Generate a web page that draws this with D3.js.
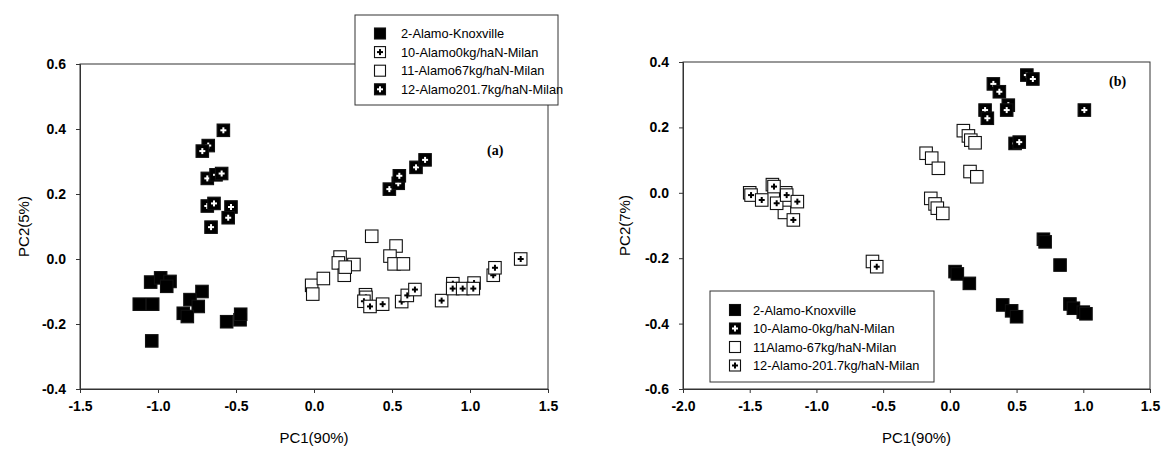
<!DOCTYPE html>
<html>
<head>
<meta charset="utf-8">
<script src="https://cdn.jsdelivr.net/npm/d3@7/dist/d3.min.js"></script>
<style>
  body { margin: 0; background: #fff; }
  text { font-family: Arial, "Liberation Sans", sans-serif; }
</style>
</head>
<body>
<script>
// PCA scores
var seriesNamesA = ['2-Alamo-Knoxville', '10-Alamo0kg/haN-Milan', '11-Alamo67kg/haN-Milan', '12-Alamo201.7kg/haN-Milan'];
var seriesNamesB = ['2-Alamo-Knoxville', '10-Alamo-0kg/haN-Milan', '11Alamo-67kg/haN-Milan', '12-Alamo-201.7kg/haN-Milan'];

// panel (a)
var knoxA = [[-1.047, -0.071], [-0.983, -0.058], [-0.923, -0.069], [-0.944, -0.084], [-1.12, -0.139], [-1.034, -0.139],
  [-0.718, -0.1], [-0.795, -0.125], [-0.742, -0.146], [-0.838, -0.167], [-0.812, -0.177], [-0.56, -0.193],
  [-0.474, -0.187], [-0.47, -0.17], [-1.04, -0.252]];
var milan0A = [[0.333, -0.118], [0.32, -0.13], [0.359, -0.146], [0.44, -0.139], [0.562, -0.131], [0.598, -0.112],
  [0.647, -0.094], [0.818, -0.128], [0.89, -0.076], [1.026, -0.074], [0.889, -0.091], [0.953, -0.091], [1.021, -0.091],
  [1.149, -0.05], [1.16, -0.027], [1.325, 0.0]];
var milan67A = [[0.37, 0.07], [-0.015, -0.081], [-0.008, -0.108], [0.06, -0.06], [0.167, 0.006], [0.156, -0.012],
  [0.256, -0.017], [0.194, -0.05], [0.526, 0.04], [0.487, 0.009], [0.513, -0.015], [0.573, -0.015], [0.2, -0.025], [0.33, -0.11]];
var milan201A = [[-0.581, 0.396], [-0.678, 0.349], [-0.716, 0.332], [-0.684, 0.248], [-0.628, 0.259], [-0.592, 0.263],
  [-0.684, 0.163], [-0.641, 0.171], [-0.532, 0.16], [-0.55, 0.127], [-0.66, 0.098],
  [0.483, 0.215], [0.54, 0.233], [0.547, 0.256], [0.654, 0.282], [0.712, 0.305]];

// panel (b)
var knoxB = [[0.039, -0.241], [0.056, -0.248], [0.146, -0.277], [0.396, -0.343], [0.463, -0.361], [0.5, -0.379],
  [0.701, -0.142], [0.714, -0.15], [0.826, -0.221], [0.9, -0.34], [0.926, -0.353], [1.0, -0.365], [1.02, -0.37]];
var milan0B = [[0.577, 0.36], [0.622, 0.348], [0.326, 0.333], [0.371, 0.309], [0.438, 0.268], [0.426, 0.253],
  [0.264, 0.253], [0.281, 0.228], [1.008, 0.253], [0.489, 0.151], [0.52, 0.155]];
var milan67B = [[0.101, 0.19], [0.139, 0.174], [0.157, 0.161], [0.189, 0.153], [-0.178, 0.121], [-0.136, 0.106],
  [-0.086, 0.075], [0.151, 0.065], [0.202, 0.049], [-0.143, -0.017], [-0.111, -0.034], [-0.094, -0.047], [-0.053, -0.063],
  [-1.5, 0.0], [-1.33, 0.025], [-1.23, 0.0], [-1.24, -0.06], [-0.58, -0.21]];
var milan201B = [[-1.49, -0.007], [-1.41, -0.022], [-1.318, 0.019], [-1.298, -0.032], [-1.223, -0.007],
  [-1.143, -0.027], [-1.173, -0.083], [-0.548, -0.226]];

var xTicksA = [-1.5, -1.0, -0.5, 0.0, 0.5, 1.0, 1.5];
var yTicksA = [-0.4, -0.2, 0.0, 0.2, 0.4, 0.6];
var xTicksB = [-2.0, -1.5, -1.0, -0.5, 0.0, 0.5, 1.0, 1.5];
var yTicksB = [-0.6, -0.4, -0.2, 0.0, 0.2, 0.4];

// marker kinds: fill colour of square, colour of cross (null = none)
var styleA = [{fill: '#000', cross: null}, {fill: '#fff', cross: '#000'}, {fill: '#fff', cross: null}, {fill: '#000', cross: '#fff'}];
var styleB = [{fill: '#000', cross: null}, {fill: '#000', cross: '#fff'}, {fill: '#fff', cross: null}, {fill: '#fff', cross: '#000'}];

var svg = d3.select('body').append('svg')
  .attr('width', 1164)
  .attr('height', 454);

var fmt = function(v) { return v.toFixed(1); };

var drawMarker = function(g, st, size) {
  g.append('rect')
    .attr('x', -size / 2).attr('y', -size / 2)
    .attr('width', size).attr('height', size)
    .attr('fill', st.fill)
    .attr('stroke', '#111')
    .attr('stroke-width', 1.1);
  if (st.cross) {
    g.append('rect').attr('x', -3).attr('y', -1).attr('width', 6).attr('height', 2).attr('fill', st.cross);
    g.append('rect').attr('x', -1).attr('y', -3).attr('width', 2).attr('height', 6).attr('fill', st.cross);
  }
};

var drawPanel = function(p) {
  var x = d3.scaleLinear().domain(p.xDomain).range([p.left, p.right]);
  var y = d3.scaleLinear().domain(p.yDomain).range([p.bottom, p.top]);

  // frame
  svg.append('rect')
    .attr('x', p.left).attr('y', p.top)
    .attr('width', p.right - p.left).attr('height', p.bottom - p.top)
    .attr('fill', 'none').attr('stroke', '#333').attr('stroke-width', 1);

  var ax = svg.append('g')
    .attr('transform', 'translate(0,' + p.bottom + ')')
    .call(d3.axisBottom(x).tickValues(p.xTicks).tickFormat(fmt).tickSize(4).tickPadding(8));
  var ay = svg.append('g')
    .attr('transform', 'translate(' + p.left + ',0)')
    .call(d3.axisLeft(y).tickValues(p.yTicks).tickFormat(fmt).tickSize(4).tickPadding(10));
  [ax, ay].forEach(function(a) {
    a.select('.domain').attr('stroke', '#333');
    a.selectAll('line').attr('stroke', '#333');
    a.selectAll('text').attr('fill', '#000').style('font-size', '14px').style('font-weight', 'bold')
      .style('font-family', 'Arial, "Liberation Sans", sans-serif');
  });

  // points (open squares first, so crosses sit on top as in the original)
  p.order.forEach(function(i) {
    svg.append('g').selectAll('g')
      .data(p.series[i])
      .enter().append('g')
      .attr('transform', function(d) { return 'translate(' + x(d[0]) + ',' + y(d[1]) + ')'; })
      .each(function() { drawMarker(d3.select(this), p.styles[i], 12.5); });
  });

  // titles
  svg.append('text')
    .attr('x', (p.left + p.right) / 2).attr('y', 443)
    .attr('text-anchor', 'middle').style('font-size', '15px')
    .text('PC1(90%)');
  svg.append('text')
    .attr('transform', 'translate(' + p.yTitleX + ',' + ((p.top + p.bottom) / 2) + ') rotate(-90)')
    .attr('text-anchor', 'middle').style('font-size', '15px')
    .text(p.yTitle);
  svg.append('text')
    .attr('x', p.tag[0]).attr('y', p.tag[1])
    .style('font-family', '"Times New Roman", "Liberation Serif", serif')
    .style('font-weight', 'bold').style('font-size', '14px')
    .text(p.tagText);

  // legend
  var lg = svg.append('g');
  lg.append('rect')
    .attr('x', p.legend.x).attr('y', p.legend.y)
    .attr('width', p.legend.w).attr('height', p.legend.h)
    .attr('fill', '#fff').attr('stroke', '#333').attr('stroke-width', 1);
  p.names.forEach(function(name, i) {
    var ry = p.legend.y + p.legend.first + i * p.legend.step;
    var mg = lg.append('g').attr('transform', 'translate(' + (p.legend.x + p.legend.mark) + ',' + ry + ')');
    drawMarker(mg, p.styles[i], 11);
    lg.append('text')
      .attr('x', p.legend.x + p.legend.text).attr('y', ry + 4.5)
      .style('font-size', '12.8px')
      .text(name);
  });
};

drawPanel({
  left: 80, right: 548, top: 64, bottom: 389,
  xDomain: [-1.5, 1.5], yDomain: [-0.4, 0.6],
  xTicks: xTicksA, yTicks: yTicksA,
  series: [knoxA, milan0A, milan67A, milan201A],
  styles: styleA, order: [0, 2, 1, 3],
  names: seriesNamesA,
  yTitle: 'PC2(5%)', yTitleX: 29,
  tag: [487, 155], tagText: '(a)',
  legend: {x: 355, y: 15, w: 203, h: 90, first: 18.5, step: 18.6, mark: 25, text: 46}
});

drawPanel({
  left: 683, right: 1150, top: 62, bottom: 389,
  xDomain: [-2.0, 1.5], yDomain: [-0.6, 0.4],
  xTicks: xTicksB, yTicks: yTicksB,
  series: [knoxB, milan0B, milan67B, milan201B],
  styles: styleB, order: [0, 2, 1, 3],
  names: seriesNamesB,
  yTitle: 'PC2(7%)', yTitleX: 630,
  tag: [1109, 86], tagText: '(b)',
  legend: {x: 710, y: 291, w: 224, h: 91, first: 19, step: 18.5, mark: 25, text: 43}
});
</script>
</body>
</html>
